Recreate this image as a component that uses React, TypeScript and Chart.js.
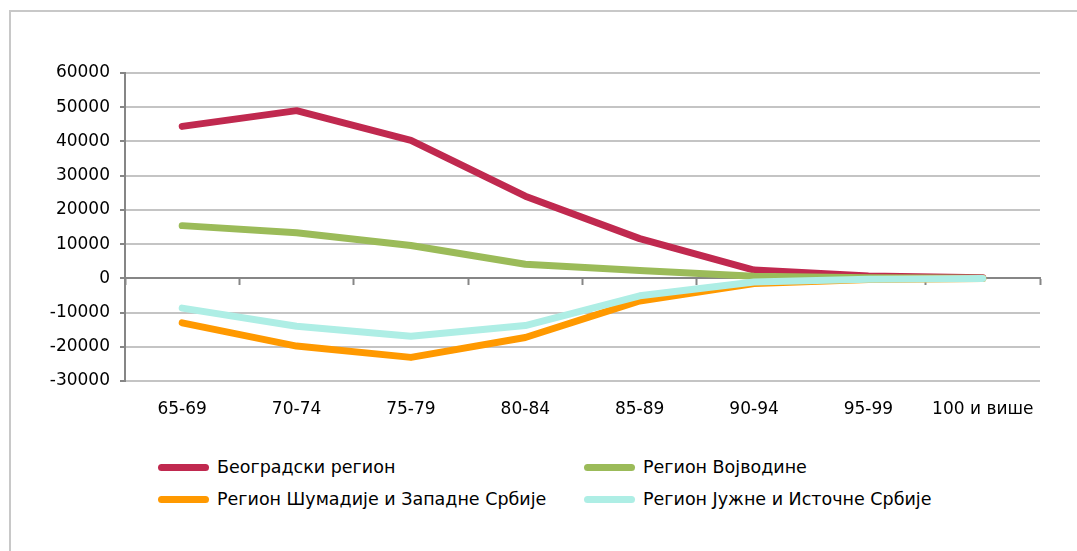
import React, { useEffect, useRef } from "react";
import { Chart, registerables } from "chart.js";

Chart.register(...registerables);

const categories = ["65-69", "70-74", "75-79", "80-84", "85-89", "90-94", "95-99", "100 и више"];
const seriesNames = [
  "Београдски регион",
  "Регион Војводине",
  "Регион Шумадије и Западне Србије",
  "Регион Јужне и Источне Србије",
];
const belgrade = [44400, 49000, 40300, 24000, 11600, 2400, 700, 150];
const vojvodina = [15400, 13300, 9600, 4100, 2300, 600, 150, 30];
const sumadija = [-13000, -19800, -23100, -17300, -6600, -1500, -350, -60];
const south = [-8700, -14000, -16900, -13800, -5100, -1100, -300, -50];
const yTicks = [60000, 50000, 40000, 30000, 20000, 10000, 0, -10000, -20000, -30000];

const seriesValues = [belgrade, vojvodina, sumadija, south];
const colors = ["#C0294F", "#9BBB59", "#FF9900", "#AEEEE5"];

const FONT = "'DejaVu Sans', sans-serif";

export default function App() {
  const ref = useRef<HTMLCanvasElement | null>(null);

  useEffect(() => {
    if (!ref.current) return;
    const chart = new Chart(ref.current, {
      type: "line",
      data: {
        labels: categories,
        datasets: seriesValues.map((vals, i) => ({
          label: seriesNames[i],
          data: vals,
          borderColor: colors[i],
          backgroundColor: colors[i],
          borderWidth: 7,
          borderCapStyle: "round" as const,
          borderJoinStyle: "round" as const,
          pointRadius: 0,
          pointHoverRadius: 0,
          tension: 0,
          fill: false,
          order: 4 - i,
        })),
      },
      options: {
        animation: false,
        responsive: false,
        maintainAspectRatio: false,
        layout: { padding: { top: 73, right: 37, bottom: 0, left: 0 } },
        plugins: {
          legend: { display: false },
          tooltip: { enabled: false },
        },
        scales: {
          x: {
            type: "category",
            offset: true,
            grid: { display: false, drawTicks: false },
            border: { display: false },
            ticks: {
              color: "#000",
              font: { family: FONT, size: 17 },
              padding: 18,
              maxRotation: 0,
              autoSkip: false,
            },
            afterFit: (s: any) => {
              s.height = 59;
            },
          },
          x2: {
            type: "category",
            offset: true,
            position: { y: 0 } as any,
            grid: {
              drawOnChartArea: false,
              drawTicks: true,
              tickLength: 6,
              tickWidth: 2,
              tickColor: "#868686",
              offset: true,
            },
            border: { display: true, color: "#868686", width: 2 },
            ticks: { display: false },
          },
          y: {
            min: -30000,
            max: 60000,
            afterBuildTicks: (s: any) => {
              s.ticks = yTicks.map((v) => ({ value: v }));
            },
            afterFit: (s: any) => {
              s.width = 125;
            },
            grid: {
              color: (c: any) => (c.tick && c.tick.value === 0 ? "#868686" : "#C4C4C4"),
              lineWidth: 2,
              tickLength: 5,
              tickWidth: 2,
              tickColor: "#868686",
            },
            border: { display: true, color: "#868686", width: 2 },
            ticks: {
              color: "#000",
              font: { family: FONT, size: 17 },
              padding: 10,
              callback: (v: any) => String(v),
            },
          },
        },
      },
    });
    return () => chart.destroy();
  }, []);

  const legendPos = [
    { x: 158, y: 467 },
    { x: 584, y: 467 },
    { x: 158, y: 499 },
    { x: 584, y: 499 },
  ];

  return (
    <div style={{ position: "fixed", left: 0, top: 0, width: 1077, height: 551, overflow: "hidden", background: "#fff" }}>
      <div
        style={{
          position: "absolute",
          left: 9,
          top: 10,
          width: 1200,
          height: 700,
          borderTop: "2px solid #C8C8C8",
          borderLeft: "2px solid #C8C8C8",
        }}
      />
      <canvas ref={ref} width={1077} height={440} style={{ position: "absolute", left: 0, top: 0, width: 1077, height: 440 }} />
      {seriesNames.map((name, i) => (
        <div
          key={name}
          style={{
            position: "absolute",
            left: legendPos[i].x,
            top: legendPos[i].y - 12,
            height: 24,
            display: "flex",
            alignItems: "center",
            fontFamily: FONT,
            fontSize: 17.5,
            color: "#000",
            whiteSpace: "nowrap",
          }}
        >
          <span
            style={{
              display: "inline-block",
              width: 51,
              height: 7,
              borderRadius: 4,
              background: colors[i],
              marginRight: 8,
            }}
          />
          <span>{name}</span>
        </div>
      ))}
    </div>
  );
}
